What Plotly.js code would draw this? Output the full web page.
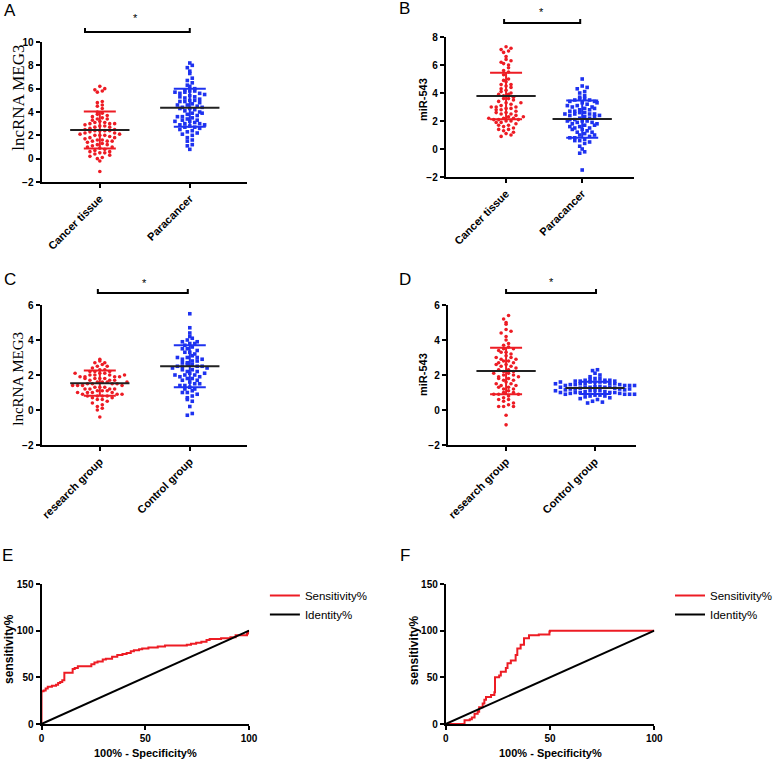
<!DOCTYPE html>
<html><head><meta charset="utf-8">
<script src="https://cdn.plot.ly/plotly-3.0.1.min.js"></script>
<style>html,body{margin:0;padding:0;background:#fff}</style>
</head><body><div id="chart" style="width:777px;height:760px"></div>
<script>
// ---------------- DATA ----------------
const groupsAB = ['Cancer tissue', 'Paracancer'];
const groupsCD = ['research group', 'Control group'];

const aCancer = [6.2,6.0,5.9,5.8,5.7,4.9,4.8,4.6,4.5,4.3,4.0,3.9,3.8,3.7,3.6,3.5,3.4,3.4,3.3,3.2,3.1,3.1,3.0,3.0,3.0,2.9,2.8,2.8,2.7,2.7,2.6,2.5,2.5,2.4,2.4,2.4,2.4,2.3,2.2,2.2,2.1,2.1,2.0,2.0,2.0,1.9,1.8,1.8,1.7,1.6,1.6,1.5,1.5,1.5,1.4,1.3,1.2,1.2,1.1,1.0,1.0,0.9,0.8,0.7,0.6,0.6,0.5,0.5,0.4,0.3,0.2,0.1,0.0,-0.2,-1.1];
const aPara = [8.2,8.0,7.8,7.5,7.3,6.9,6.7,6.5,6.3,6.2,6.0,5.9,5.8,5.8,5.7,5.6,5.6,5.5,5.4,5.3,5.2,5.1,5.0,5.0,4.9,4.8,4.7,4.6,4.5,4.4,4.4,4.3,4.2,4.1,4.0,3.9,3.8,3.7,3.6,3.5,3.4,3.3,3.2,3.1,3.0,3.0,2.9,2.8,2.7,2.7,2.6,2.5,2.4,2.3,2.2,2.1,2.0,1.8,1.6,1.5,1.2,1.1,0.8,4.9,4.6,4.3,3.9,3.6,3.3,5.3,5.7,2.9,3.2];
const bCancer = [7.3,7.2,7.1,7.0,6.9,6.6,6.4,6.3,6.2,6.0,5.8,5.5,5.3,5.0,4.8,4.6,4.5,4.4,4.3,4.2,4.0,3.9,3.8,3.7,3.6,3.6,3.5,3.4,3.3,3.2,3.1,3.0,3.0,2.9,2.9,2.8,2.7,2.6,2.5,2.5,2.4,2.3,2.2,2.2,2.1,2.1,2.1,2.0,2.0,1.9,1.8,1.7,1.6,1.5,1.4,1.3,1.2,1.1,1.0,0.9,4.6,4.1,3.9,3.3,2.8,2.6,2.3,1.9,1.7,1.4,5.6,6.1,2.2,3.0,4.9];
const bPara = [5.0,4.5,4.4,4.3,4.1,4.0,3.8,3.7,3.6,3.6,3.5,3.5,3.4,3.4,3.3,3.2,3.1,3.0,3.0,2.9,2.8,2.8,2.7,2.6,2.6,2.5,2.5,2.5,2.4,2.4,2.3,2.2,2.2,2.1,2.0,2.0,1.9,1.9,1.8,1.8,1.7,1.6,1.5,1.5,1.4,1.3,1.2,1.2,1.1,1.0,0.9,0.8,0.7,0.6,0.5,0.4,0.2,0.0,-0.2,-0.3,-1.5,3.3,2.9,2.7,2.3,2.1,1.7,1.6,1.4,1.0,0.8,3.1,2.0,0.6,2.5];
const cResearch = [2.9,2.8,2.7,2.7,2.6,2.5,2.5,2.4,2.3,2.3,2.2,2.2,2.2,2.1,2.1,2.0,2.0,2.0,1.9,1.9,1.9,1.9,1.8,1.8,1.8,1.7,1.7,1.7,1.6,1.6,1.6,1.5,1.5,1.5,1.5,1.4,1.4,1.4,1.3,1.3,1.3,1.2,1.2,1.2,1.1,1.1,1.1,1.0,1.0,1.0,0.9,0.9,0.9,0.8,0.8,0.8,0.7,0.7,0.6,0.6,0.5,0.4,0.3,0.2,0.1,0.0,-0.4,2.0,1.8,1.6,1.4,1.2,1.0,2.1,0.8];
const cControl = [5.5,4.7,4.4,4.2,4.1,4.0,3.9,3.9,3.8,3.8,3.7,3.6,3.5,3.4,3.3,3.2,3.1,3.0,3.0,2.9,2.9,2.8,2.7,2.6,2.6,2.5,2.5,2.5,2.5,2.4,2.3,2.2,2.2,2.1,2.0,2.0,1.9,1.9,1.8,1.8,1.7,1.6,1.5,1.4,1.3,1.2,1.1,1.0,0.9,0.8,0.7,0.5,0.2,-0.2,-0.3,3.5,3.0,2.8,2.4,2.3,2.1,1.7,1.5,1.2,1.0,3.3,2.7,2.0,1.4,0.6];
const dResearch = [5.4,5.2,5.0,4.9,4.6,4.5,4.2,4.0,3.8,3.7,3.6,3.5,3.5,3.4,3.3,3.2,3.1,3.0,2.9,2.9,2.8,2.8,2.7,2.6,2.5,2.5,2.4,2.3,2.2,2.2,2.1,2.0,2.0,1.9,1.8,1.7,1.6,1.5,1.4,1.4,1.3,1.2,1.1,1.0,1.0,0.9,0.9,0.8,0.7,0.6,0.5,0.4,0.3,0.2,0.2,-0.3,-0.85,3.3,3.0,2.6,2.3,1.9,1.7,1.5,1.2,0.9,0.6,2.7,2.1,1.8,1.3,4.4,0.2];
const dControl = [2.3,2.25,2.1,2.0,1.9,1.8,1.8,1.75,1.7,1.7,1.7,1.65,1.65,1.65,1.6,1.6,1.6,1.6,1.5,1.5,1.5,1.5,1.45,1.45,1.45,1.4,1.4,1.4,1.35,1.35,1.3,1.3,1.3,1.3,1.25,1.25,1.2,1.2,1.2,1.15,1.15,1.1,1.1,1.1,1.05,1.05,1.0,1.0,1.0,1.0,0.95,0.95,0.9,0.9,0.9,0.85,0.85,0.8,0.8,0.75,0.7,0.65,0.6,0.5,0.45,0.4,1.6,1.4,1.2,1.0,0.9,1.3,1.5,1.1];

// mean and SD
const meanA = [2.46, 4.37], sdA = [1.58, 1.63];
const meanB = [3.79, 2.14], sdB = [1.66, 1.33];
const meanC = [1.53, 2.50], sdC = [0.72, 1.20];
const meanD = [2.23, 1.26], sdD = [1.33, 0.35];

// ROC curves (100% - Specificity%, Sensitivity%)
const eSpec = [0,0,1,2,3,5,7,8,9,10,11,15,16,17.5,24,25.5,27,29.5,31,34,36.5,39,41,43,44.5,47,48.5,51.5,56,59.5,70,72,74.5,77,79.5,81,86.5,91,93.5,99,99.5,100];
const eSens = [0,35,36,38,40,41,42,44,45,47,55,59,60,62,64,66,67,69,70,72,74,75,76,78,79,80,81,82,83,84,85,86,87,88,90,91,92,93,95,97,99,100];
const fSpec = [0,9,11.5,12.5,13.8,15.3,16,17.7,18.5,19.3,21.7,23.3,23.6,25.6,26.4,28.8,29.6,31.2,33.5,34.3,35.9,37.5,39.9,44.6,49.7,50,100];
const fSens = [0,4,5,7,11,13,18,22,26,29,31,34,50,52,56,60,65,68,74,81,85,92,95,96,99,100,100];
const identX = [0, 100], identY = [0, 100];

// ---------------- LAYOUT HELPERS ----------------
const W = 777, H = 760;
const px = x => x / W, py = y => 1 - y / H;
const RED = 'rgb(237,28,36)', BLUE = 'rgb(30,50,240)';
const SANS = 'Liberation Sans, Arial, sans-serif';
const SERIF = 'Liberation Serif, Times New Roman, serif';

const P = {
  A: {n:'',  x0:42,  x1:250, y0:42,  y1:182, xr:[-0.648,1.637], yr:[-2,10]},
  B: {n:'2', x0:451, x1:641, y0:37,  y1:177, xr:[-0.792,1.675], yr:[-2,8]},
  C: {n:'3', x0:42,  x1:250, y0:305, y1:445, xr:[-0.648,1.637], yr:[-2,6]},
  D: {n:'4', x0:453, x1:643, y0:305, y1:445, xr:[-0.656,1.456], yr:[-2,6]},
  E: {n:'5', x0:42,  x1:252, y0:584, y1:724, xr:[0,100], yr:[0,150]},
  F: {n:'6', x0:451, x1:662, y0:584, y1:724, xr:[0,100], yr:[0,150]}
};
for (const k in P) {
  const p = P[k];
  p.pxX = (p.x1 - p.x0) / (p.xr[1] - p.xr[0]);
  p.pxY = (p.y1 - p.y0) / (p.yr[1] - p.yr[0]);
}

function swarm(vals, c, p) {
  const rowH = 4.4 / p.pxY, dx = 5 / p.pxX;
  const bins = {};
  vals.forEach((v, i) => { const k = Math.round(v / rowH); (bins[k] = bins[k] || []).push(i); });
  const xs = new Array(vals.length);
  Object.values(bins).forEach(idx => {
    const n = idx.length;
    idx.forEach((i, j) => {
      const slot = (n % 2 === 1) ? (j === 0 ? 0 : (j % 2 ? (j + 1) / 2 : -j / 2)) : (j % 2 ? -(Math.floor(j / 2) + 0.5) : (Math.floor(j / 2) + 0.5));
      xs[i] = c + slot * dx;
    });
  });
  return xs;
}

const traces = [];
function dotPanel(p, groups, red, blue, mean, sd) {
  const xa = 'x' + p.n, ya = 'y' + p.n;
  const sets = [[red, RED, 'circle'], [blue, BLUE, 'square']];
  sets.forEach(([vals, col, sym], g) => {
    traces.push({type:'scatter', mode:'markers', x: swarm(vals, g, p), y: vals, xaxis: xa, yaxis: ya,
      marker:{color: col, size: 3.6, symbol: sym, line:{width:0}}, showlegend:false, cliponaxis:false, hoverinfo:'y', name: groups[g]});
  });
  sets.forEach(([vals, col], g) => {
    traces.push({type:'scatter', mode:'markers', x:[g], y:[mean[g]], xaxis: xa, yaxis: ya,
      marker:{size:1, opacity:0}, showlegend:false, cliponaxis:false, hoverinfo:'skip',
      error_y:{type:'data', symmetric:true, array:[sd[g]], width:16, thickness:2, color: col, visible:true}});
    const hw = 30 / p.pxX;
    traces.push({type:'scatter', mode:'lines', x:[g - hw, g + hw], y:[mean[g], mean[g]], xaxis: xa, yaxis: ya,
      line:{color:'#222', width:2}, showlegend:false, cliponaxis:false, hoverinfo:'skip'});
  });
}
dotPanel(P.A, groupsAB, aCancer, aPara, meanA, sdA);
dotPanel(P.B, groupsAB, bCancer, bPara, meanB, sdB);
dotPanel(P.C, groupsCD, cResearch, cControl, meanC, sdC);
dotPanel(P.D, groupsCD, dResearch, dControl, meanD, sdD);

function rocPanel(p, sx, sy, leg) {
  const xa = 'x' + p.n, ya = 'y' + p.n;
  traces.push({type:'scatter', mode:'lines', x: sx, y: sy, xaxis: xa, yaxis: ya, name:'Sensitivity%',
    line:{color: RED, width:2, shape:'hv'}, cliponaxis:false, legend: leg});
  traces.push({type:'scatter', mode:'lines', x: identX, y: identY, xaxis: xa, yaxis: ya, name:'Identity%',
    line:{color:'#000', width:2}, cliponaxis:false, legend: leg});
}
rocPanel(P.E, eSpec, eSens, 'legend');
rocPanel(P.F, fSpec, fSens, 'legend2');

const tickFont = {family: SANS, size: 10, color: '#000', weight: 700};
const layout = {
  width: W, height: H, margin:{l:0, r:0, t:0, b:0},
  paper_bgcolor:'#fff', plot_bgcolor:'rgba(0,0,0,0)',
  showlegend: true,
  legend: {x: px(268), y: py(581), xanchor:'left', yanchor:'top', font:{family: SANS, size: 11.5, color:'#000'}, bgcolor:'rgba(0,0,0,0)', tracegroupgap:0},
  legend2: {x: px(678), y: py(581), xanchor:'left', yanchor:'top', font:{family: SANS, size: 11.5, color:'#000'}, bgcolor:'rgba(0,0,0,0)', tracegroupgap:0},
  annotations: [], shapes: []
};

function axisBase(extra) {
  return Object.assign({showgrid:false, zeroline:false, showline:true, linecolor:'#000', linewidth:2,
    ticks:'outside', ticklen:4, tickwidth:2, tickcolor:'#000', tickfont: tickFont, fixedrange:true}, extra);
}
const cat = {A: groupsAB, B: groupsAB, C: groupsCD, D: groupsCD};
for (const k in P) {
  const p = P[k];
  const xk = 'xaxis' + p.n, yk = 'yaxis' + p.n;
  const isRoc = (k === 'E' || k === 'F');
  layout[xk] = axisBase({domain:[px(p.x0), px(p.x1)], range: p.xr, anchor: 'y' + p.n,
    tickmode: 'array', tickvals: isRoc ? [0, 50, 100] : [0, 1],
    ticktext: isRoc ? ['0', '50', '100'] : cat[k], tickangle: isRoc ? 0 : -45,
    tickfont: Object.assign({}, tickFont, {size: isRoc ? 10 : 11})});
  layout[yk] = axisBase({domain:[py(p.y1), py(p.y0)], range: p.yr, anchor: 'x' + p.n,
    tickmode:'linear', tick0: p.yr[0], dtick: isRoc ? 50 : 2});
}

// panel letters
[['A',2,11],['B',402,9],['C',2,279],['D',402,279],['E',0,555],['F',403,555]].forEach(([t,x,y]) => {
  layout.annotations.push({text:t, x:px(x), y:py(y), xref:'paper', yref:'paper', xanchor:'left', yanchor:'middle',
    showarrow:false, font:{family:SANS, size:17, color:'#000'}});
});
// y-axis titles
const yt = [
  ['lncRNA MEG3', 18, 98, SERIF, 17, 400],
  ['miR-543', 428, 100, SANS, 11, 700],
  ['lncRNA MEG3', 18, 379, SERIF, 15, 400],
  ['miR-543', 428, 375, SANS, 11, 700],
  ['sensitivity%', 9, 649, SANS, 12, 700],
  ['sensitivity%', 419, 650, SANS, 12, 700]
];
yt.forEach(([t,x,y,f,s,w]) => layout.annotations.push({text:t, x:px(x), y:py(y), xref:'paper', yref:'paper',
  xanchor:'center', yanchor:'middle', textangle:-90, showarrow:false, font:{family:f, size:s, color:'#000', weight:w}}));
// x-axis titles for ROC
[[147,753],[557,753]].forEach(([x,y]) => layout.annotations.push({text:'100% - Specificity%', x:px(x), y:py(y),
  xref:'paper', yref:'paper', xanchor:'center', yanchor:'middle', showarrow:false, font:{family:SANS, size:11, color:'#000', weight:700}}));

// significance brackets and stars
[[86,192,32,137,18],[510,587,23,548,12],[99,190,293,146,283],[512,603,293,558,282]].forEach(([x1,x2,y,sx,sy]) => {
  layout.shapes.push({type:'path', xref:'paper', yref:'paper',
    path:`M ${px(x1)} ${py(y-4)} L ${px(x1)} ${py(y)} L ${px(x2)} ${py(y)} L ${px(x2)} ${py(y-4)}`,
    line:{color:'#000', width:2}});
  layout.annotations.push({text:'*', x:px(sx), y:py(sy), xref:'paper', yref:'paper', xanchor:'center', yanchor:'middle',
    showarrow:false, font:{family:SANS, size:11, color:'#000'}});
});

Plotly.newPlot('chart', traces, layout, {displayModeBar:false, staticPlot:true});
</script>
</body></html>
